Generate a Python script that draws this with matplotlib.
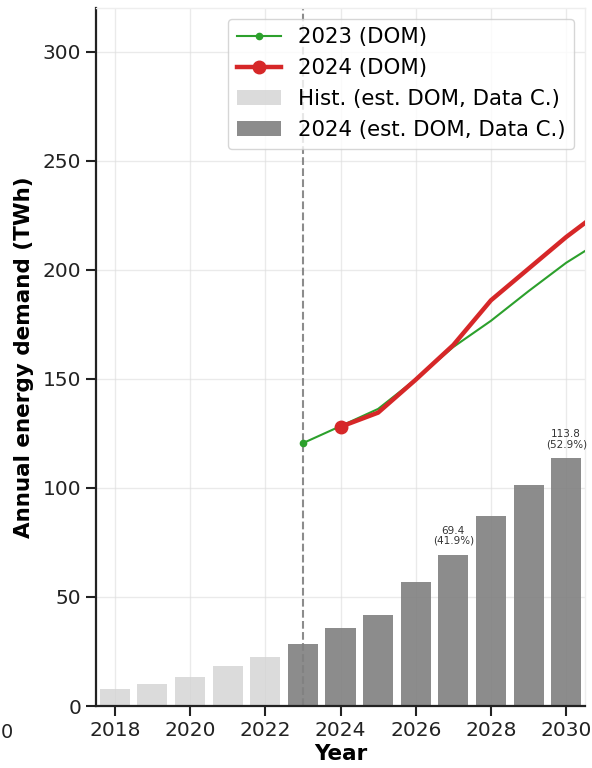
import numpy as np
import matplotlib
matplotlib.use("Agg")
import matplotlib.pyplot as plt
from matplotlib.patches import Patch
from matplotlib.lines import Line2D

# data
hist_years = [2018, 2019, 2020, 2021, 2022]
hist_vals = [7.8, 10.2, 13.2, 18.5, 22.6]
proj_years = [2023, 2024, 2025, 2026, 2027, 2028, 2029, 2030]
proj_vals = [28.6, 35.8, 41.9, 56.7, 69.4, 87.3, 101.1, 113.8]

dom23_years = [2023, 2024, 2025, 2026, 2027, 2028, 2029, 2030, 2031]
dom23_vals = [120.5, 128.3, 136.2, 149.8, 164.6, 176.6, 190.2, 203.2, 214.0]
dom24_years = [2024, 2025, 2026, 2027, 2028, 2029, 2030, 2031]
dom24_vals = [128.0, 134.5, 149.6, 165.5, 186.0, 200.5, 215.0, 228.0]

# labelled bars: (year, value, share of DOM)
labelled = [(2027, 69.4, 41.9), (2030, 113.8, 52.9)]

fig = plt.figure(figsize=(5.92, 7.68), dpi=100)
ax = fig.add_axes([96 / 592, 62 / 768, 489 / 592, 698 / 768])

ax.bar(hist_years, hist_vals, width=0.8, color="lightgray", alpha=0.8, zorder=2)
ax.bar(proj_years, proj_vals, width=0.8, color="gray", alpha=0.9, zorder=2)

for yr, val, pct in labelled:
    ax.text(yr, val + 4, f"{val:.1f}\n({pct:.1f}%)", ha="center", va="bottom",
            fontsize=7.5, color="#333333", linespacing=1.0, zorder=4)

ax.plot(dom23_years, dom23_vals, color="tab:green", lw=1.5, marker="o",
        markersize=4.5, markevery=[0], zorder=3)
ax.plot(dom24_years, dom24_vals, color="tab:red", lw=3.2, marker="o",
        markersize=9, markevery=[0], zorder=3)

ax.axvline(2023, color="gray", linestyle="--", lw=1.5, alpha=0.9, zorder=2.5)

ax.set_xlim(2017.5, 2030.5)
ax.set_ylim(0, 320)
ax.set_xticks(np.arange(2018, 2031, 2))
ax.set_yticks(np.arange(0, 301, 50))
ax.grid(True, color="#dddddd", alpha=0.6, lw=1.0, zorder=0)
ax.set_axisbelow(True)

ax.tick_params(labelsize=14.5, length=7, width=1.5, colors="#222222")
for s in ["left", "bottom"]:
    ax.spines[s].set_linewidth(1.6)
    ax.spines[s].set_color("#222222")
for s in ["top", "right"]:
    ax.spines[s].set_color("#eeeeee")
    ax.spines[s].set_linewidth(1.0)

ax.set_xlabel("Year", fontsize=15.5, fontweight="bold", labelpad=3)
ax.set_ylabel("Annual energy demand (TWh)", fontsize=15.5, fontweight="bold", labelpad=6)

handles = [
    Line2D([], [], color="tab:green", lw=1.5, marker="o", markersize=4.5),
    Line2D([], [], color="tab:red", lw=3.2, marker="o", markersize=9),
    Patch(facecolor="lightgray", alpha=0.8),
    Patch(facecolor="gray", alpha=0.9),
]
labels = ["2023 (DOM)", "2024 (DOM)", "Hist. (est. DOM, Data C.)",
          "2024 (est. DOM, Data C.)"]
ax.legend(handles, labels, loc="upper right", fontsize=15.3, handlelength=2.1,
          borderaxespad=0.5, labelspacing=0.52)

# fragment of the neighbouring panel at the left edge
fig.text(0.5 / 592, 1 - 732 / 768, "0", fontsize=14, color="#222222",
         ha="left", va="center")

fig.savefig("out.png", dpi=100)
